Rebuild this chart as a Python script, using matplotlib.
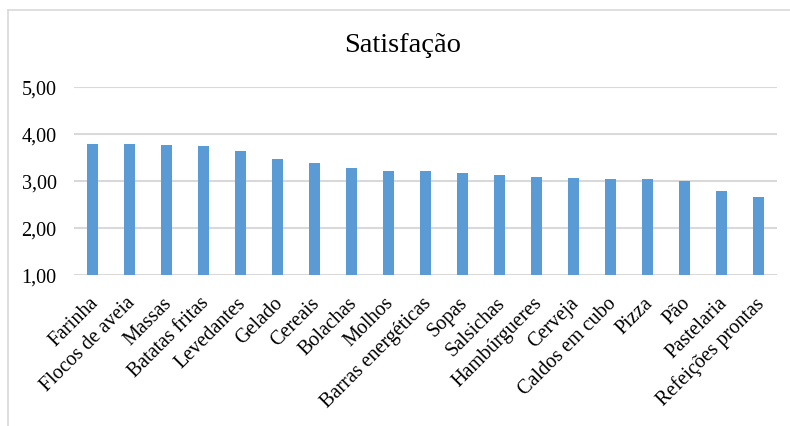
import matplotlib.pyplot as plt
import matplotlib.transforms as mtransforms
from matplotlib.lines import Line2D
from matplotlib.ticker import FuncFormatter

categories = ['Farinha', 'Flocos de aveia', 'Massas', 'Batatas fritas', 'Levedantes',
              'Gelado', 'Cereais', 'Bolachas', 'Molhos', 'Barras energéticas', 'Sopas',
              'Salsichas', 'Hambúrgueres', 'Cerveja', 'Caldos em cubo', 'Pizza', 'Pão',
              'Pastelaria', 'Refeições prontas']
satisfacao = [3.78, 3.78, 3.76, 3.74, 3.64, 3.47, 3.39, 3.28, 3.22, 3.22, 3.17,
              3.13, 3.08, 3.06, 3.04, 3.04, 3.01, 2.78, 2.67]
y_ticks = [1, 2, 3, 4, 5]

plt.rcParams['font.family'] = ['Liberation Serif', 'DejaVu Serif']

fig = plt.figure(figsize=(7.9, 4.27), dpi=100)
ax = fig.add_axes([74 / 790, 1 - 276 / 427, (777 - 74) / 790, (276 - 88) / 427])

x = range(len(categories))
ax.bar(x, satisfacao, width=0.32, bottom=0, color='#5b9bd5', zorder=3)

ax.set_xlim(-0.5, len(categories) - 0.5)
ax.set_ylim(1, 5)
ax.set_yticks(y_ticks)
ax.yaxis.set_major_formatter(FuncFormatter(lambda v, p: f'{v:.2f}'.replace('.', ',')))
ax.grid(axis='y', color='#d9d9d9', linewidth=1.5, zorder=0)
ax.tick_params(axis='y', length=0, pad=12.5, labelsize=14.5)
ax.tick_params(axis='x', length=0, pad=13, labelsize=14.5)
ax.set_xticks(list(x))
ax.set_xticklabels(categories, rotation=45, ha='right', va='top', rotation_mode='anchor')

# nudge the slanted category labels a few pixels to the left
shift = mtransforms.ScaledTranslation(-4 / 100, 0, fig.dpi_scale_trans)
for lbl in ax.get_xticklabels():
    lbl.set_transform(lbl.get_transform() + shift)

for s in ax.spines.values():
    s.set_visible(False)

fig.text(403 / 790, 1 - 46 / 427, 'Satisfação', ha='center', va='center', fontsize=20.5)

# outer chart frame (left and top edges)
fig.add_artist(Line2D([8 / 790, 8 / 790], [0, 1 - 11 / 427], color='#d9d9d9', lw=1.2))
fig.add_artist(Line2D([8 / 790, 1], [1 - 11 / 427, 1 - 11 / 427], color='#d9d9d9', lw=1.2))

fig.savefig('out.png', dpi=100)
